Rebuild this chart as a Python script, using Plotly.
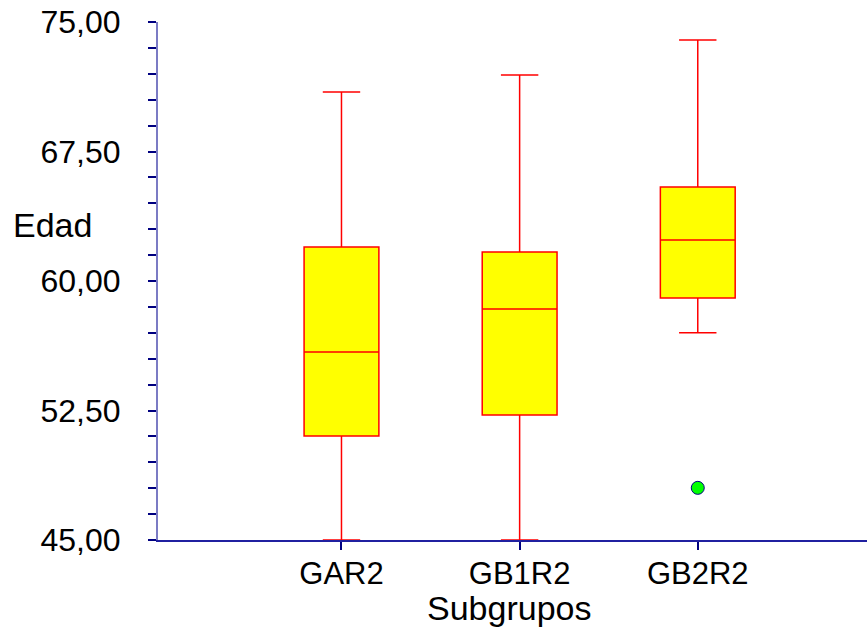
import plotly.graph_objects as go

categories = ["GAR2", "GB1R2", "GB2R2"]
lower_whisker = [45.0, 45.0, 57.0]
q1 = [51.03, 52.24, 59.02]
median = [55.89, 58.38, 62.38]
q3 = [61.97, 61.68, 65.45]
upper_whisker = [70.95, 71.93, 73.96]
outlier_cat = ["GB2R2"]
outlier_val = [48.02]

y_tick_vals = [45.0, 52.5, 60.0, 67.5, 75.0]
y_tick_text = ["45,00", "52,50", "60,00", "67,50", "75,00"]

fig = go.Figure()
fig.add_trace(go.Box(
    x=categories, q1=q1, median=median, q3=q3,
    lowerfence=lower_whisker, upperfence=upper_whisker,
    fillcolor="#ffff00", line=dict(color="#ff0000", width=1.5),
    width=0.42, whiskerwidth=0.5, boxpoints=False, showlegend=False,
    hoverinfo="skip",
))
fig.add_trace(go.Scatter(
    x=outlier_cat, y=outlier_val, mode="markers",
    marker=dict(color="#00ff00", size=13, line=dict(color="#000080", width=1)),
    showlegend=False,
))

font = "Liberation Sans, Arial, sans-serif"
fig.update_layout(
    width=867, height=633,
    margin=dict(l=158, r=0, t=22, b=93),
    paper_bgcolor="white", plot_bgcolor="white",
    font=dict(family=font, size=32, color="black"),
    xaxis=dict(
        type="category", range=[-1.03, 2.95],
        showgrid=False, zeroline=False,
        showline=True, linecolor="#2020a0", linewidth=1.5,
        ticks="outside", ticklen=8, tickcolor="#000080", tickwidth=1.5,
        tickfont=dict(size=31), ticklabelstandoff=-3,
    ),
    yaxis=dict(
        range=[45, 75], showgrid=False, zeroline=False,
        showline=True, linecolor="#7b7bc4", linewidth=2,
        tickmode="array", tickvals=y_tick_vals, ticktext=y_tick_text,
        ticks="outside", ticklen=8, tickcolor="#000080", tickwidth=1.5,
        tickfont=dict(size=32), ticklabelstandoff=21,
        minor=dict(tickmode="linear", tick0=45, dtick=1.5, ticks="outside",
                   ticklen=8, tickcolor="#000080", tickwidth=1.5, showgrid=False),
    ),
    annotations=[
        dict(text="Edad", xref="paper", yref="paper", x=-0.2074, y=0.608,
             xanchor="left", yanchor="middle", showarrow=False,
             font=dict(size=34)),
        dict(text="Subgrupos", xref="paper", yref="paper", x=0.495, y=-0.131,
             xanchor="center", yanchor="middle", showarrow=False,
             font=dict(size=34)),
    ],
)

fig.write_html(
    "out.html",
    config={"displayModeBar": False},
    post_script="document.body.style.margin='0';document.body.style.overflow='hidden';",
)
